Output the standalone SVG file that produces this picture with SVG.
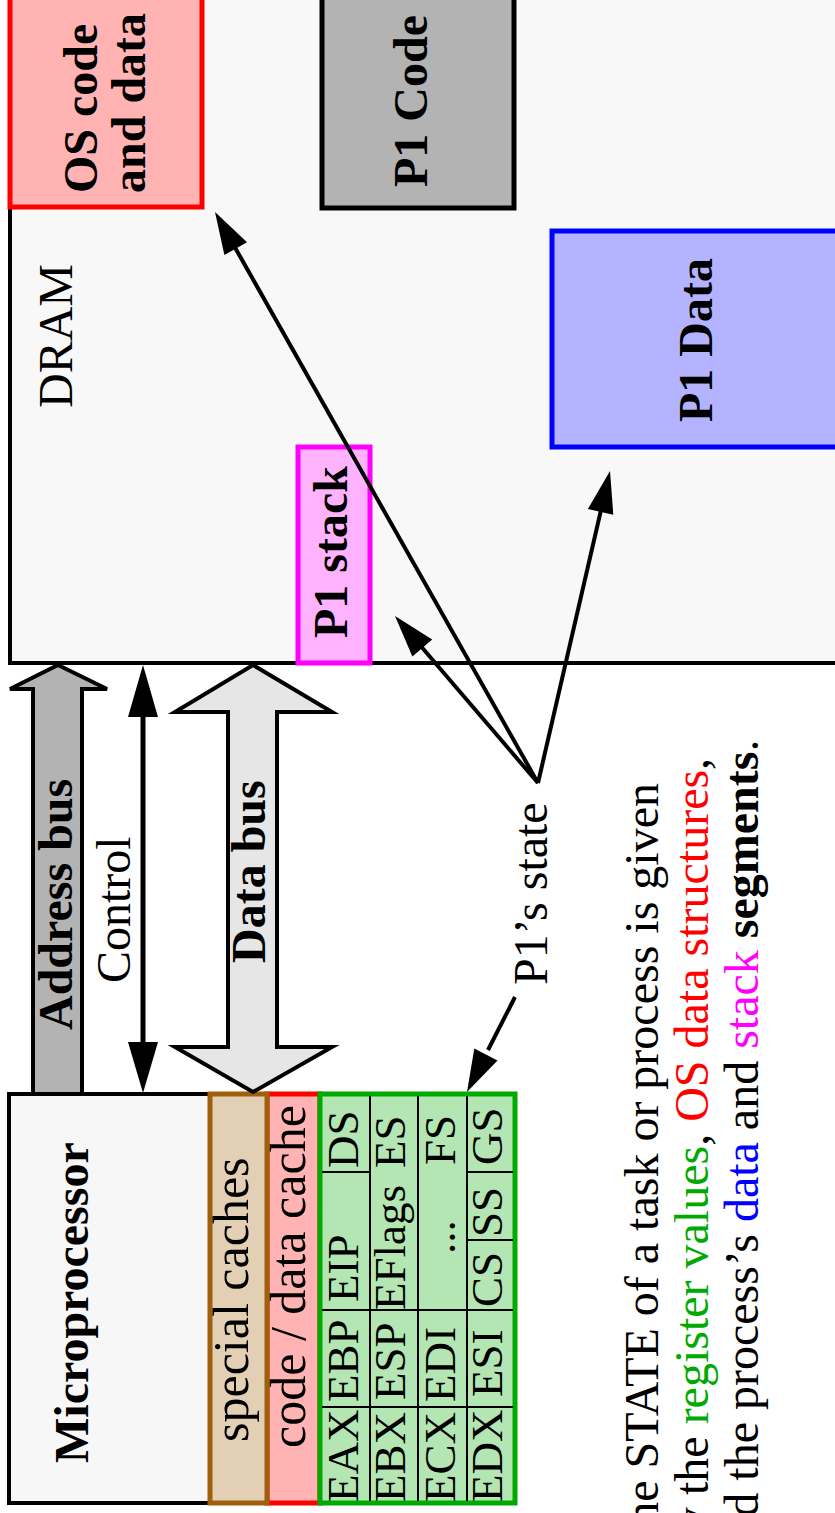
<svg xmlns="http://www.w3.org/2000/svg" width="835" height="1513" viewBox="0 0 835 1513">
<style>
text{font-family:"Liberation Serif","Times New Roman",serif;font-size:48px;fill:#000}
.b{font-weight:bold}
.s50{font-size:50px}
.reg{font-size:45px}
.box{stroke-width:5}
.thin{stroke:#000;stroke-width:2}
.conn{stroke:#000;stroke-width:4;fill:none}
.head{fill:#000;stroke:none}
</style>
<rect width="835" height="1513" fill="#ffffff"/>
<g id="dram">
<rect x="10" y="-10" width="840" height="673" fill="#f8f8f8" stroke="#000" stroke-width="4"/>
<text transform="translate(72,408) rotate(-90)">DRAM</text>
</g>
<g id="os">
<rect class="box" x="10" y="-10" width="192" height="217" fill="#ffb3b3" stroke="#ff0000"/>
<text class="b" transform="translate(97,193) rotate(-90)">OS code</text>
<text class="b" transform="translate(145,193) rotate(-90)">and data</text>
</g>
<g id="p1code">
<rect class="box" x="322" y="-10" width="192" height="218" fill="#b3b3b3" stroke="#000"/>
<text class="b" transform="translate(427,187) rotate(-90)">P1 Code</text>
</g>
<g id="p1data">
<rect class="box" x="552" y="231" width="300" height="216" fill="#b3b3ff" stroke="#0000ff"/>
<text class="b" transform="translate(712,422) rotate(-90)">P1 Data</text>
</g>
<g id="p1stack">
<rect class="box" x="298" y="447" width="72" height="216" fill="#ffb3ff" stroke="#ff00ff"/>
<text class="b" transform="translate(347,638) rotate(-90)">P1 stack</text>
</g>
<g id="cpu">
<rect x="9" y="1094" width="201" height="409" fill="#f7f7f7" stroke="#000" stroke-width="4"/>
<text class="b" transform="translate(88,1463) rotate(-90)">Microprocessor</text>
</g>
<g id="codecache">
<rect class="box" x="267" y="1094" width="53" height="409" fill="#ffb3b3" stroke="#ff0000"/>
<text class="s50" transform="translate(305,1448) rotate(-90)">code / data cache</text>
</g>
<g id="specialcache">
<rect class="box" x="210" y="1094" width="57" height="409" fill="#e3cfb3" stroke="#a05f0a"/>
<text class="s50" transform="translate(248,1442) rotate(-90)">special caches</text>
</g>
<g id="registers">
<rect class="box" x="320" y="1094" width="195" height="409" fill="#b3e6b3" stroke="#00aa00"/>
<line class="thin" x1="370" y1="1096" x2="370" y2="1501"/>
<line class="thin" x1="418" y1="1096" x2="418" y2="1501"/>
<line class="thin" x1="467" y1="1096" x2="467" y2="1501"/>
<line class="thin" x1="322" y1="1407" x2="513" y2="1407"/>
<line class="thin" x1="322" y1="1310" x2="513" y2="1310"/>
<line class="thin" x1="322" y1="1172" x2="370" y2="1172"/>
<line class="thin" x1="467" y1="1172" x2="513" y2="1172"/>
<line class="thin" x1="467" y1="1240" x2="513" y2="1240"/>
<text class="reg" transform="translate(358,1502) rotate(-90)">EAX</text>
<text class="reg" transform="translate(358,1402) rotate(-90)">EBP</text>
<text class="reg" transform="translate(358,1302) rotate(-90)">EIP</text>
<text class="reg" transform="translate(358,1168) rotate(-90)">DS</text>
<text class="reg" transform="translate(405,1502) rotate(-90)">EBX</text>
<text class="reg" transform="translate(405,1400) rotate(-90)">ESP</text>
<text class="reg" transform="translate(405,1310) rotate(-90)">EFlags</text>
<text class="reg" transform="translate(405,1168) rotate(-90)">ES</text>
<text class="reg" transform="translate(455,1502) rotate(-90)">ECX</text>
<text class="reg" transform="translate(455,1402) rotate(-90)">EDI</text>
<text class="reg" transform="translate(455,1254) rotate(-90)">...</text>
<text class="reg" transform="translate(455,1165) rotate(-90)">FS</text>
<text class="reg" transform="translate(502,1502) rotate(-90)">EDX</text>
<text class="reg" transform="translate(502,1397) rotate(-90)">ESI</text>
<text class="reg" transform="translate(502,1307) rotate(-90)">CS</text>
<text class="reg" transform="translate(502,1237) rotate(-90)">SS</text>
<text class="reg" transform="translate(502,1165) rotate(-90)">GS</text>
</g>
<g id="connectors">
<g id="addressbus">
<polygon points="58,665 107,689 82,689 82,1094 33,1094 33,689 10,689" fill="#b3b3b3" stroke="#000" stroke-width="4" stroke-linejoin="miter"/>
<text class="b" transform="translate(72,1030) rotate(-90)">Address bus</text>
</g>
<g id="control">
<line x1="143" y1="712" x2="143" y2="1047" stroke="#000" stroke-width="5"/>
<polygon class="head" points="143,665 158,717 128,717"/>
<polygon class="head" points="143,1093 158,1042 128,1042"/>
<text transform="translate(130,983) rotate(-90)">Control</text>
</g>
<g id="databus">
<polygon points="253,665 332,712 277,712 277,1047 332,1047 253,1092 175,1047 228,1047 228,712 175,712" fill="#e6e6e6" stroke="#000" stroke-width="4" stroke-linejoin="miter"/>
<text class="b" transform="translate(265,963) rotate(-90)">Data bus</text>
</g>
<g id="state">
<line class="conn" x1="538" y1="783" x2="233" y2="244"/>
<polygon class="head" points="215,212 247,242.2 224.4,255"/>
<line class="conn" x1="538" y1="783" x2="419" y2="644"/>
<polygon class="head" points="395,616 432.2,639.4 412.4,656.4"/>
<line class="conn" x1="538" y1="783" x2="601.7" y2="507"/>
<polygon class="head" points="610,471 613.3,514.8 587.9,509"/>
<line class="conn" x1="515" y1="997" x2="488" y2="1050"/>
<polygon class="head" points="467,1092 474.3,1048.6 497.5,1060.4"/>
<text transform="translate(547,985) rotate(-90)">P1’s state</text>
</g>
</g>
<g id="caption">
<text transform="translate(658,1555) rotate(-90)">The STATE of a task or process is given</text>
<text transform="translate(708,1555) rotate(-90)">by the <tspan fill="#00aa00">register values</tspan>, <tspan fill="#ff0000">OS data structures</tspan>,</text>
<text transform="translate(758,1562) rotate(-90)">and the process’s <tspan fill="#0000ff">data</tspan> and <tspan fill="#ff00ff">stack</tspan> <tspan font-weight="bold">segments</tspan>.</text>
</g>
</svg>
